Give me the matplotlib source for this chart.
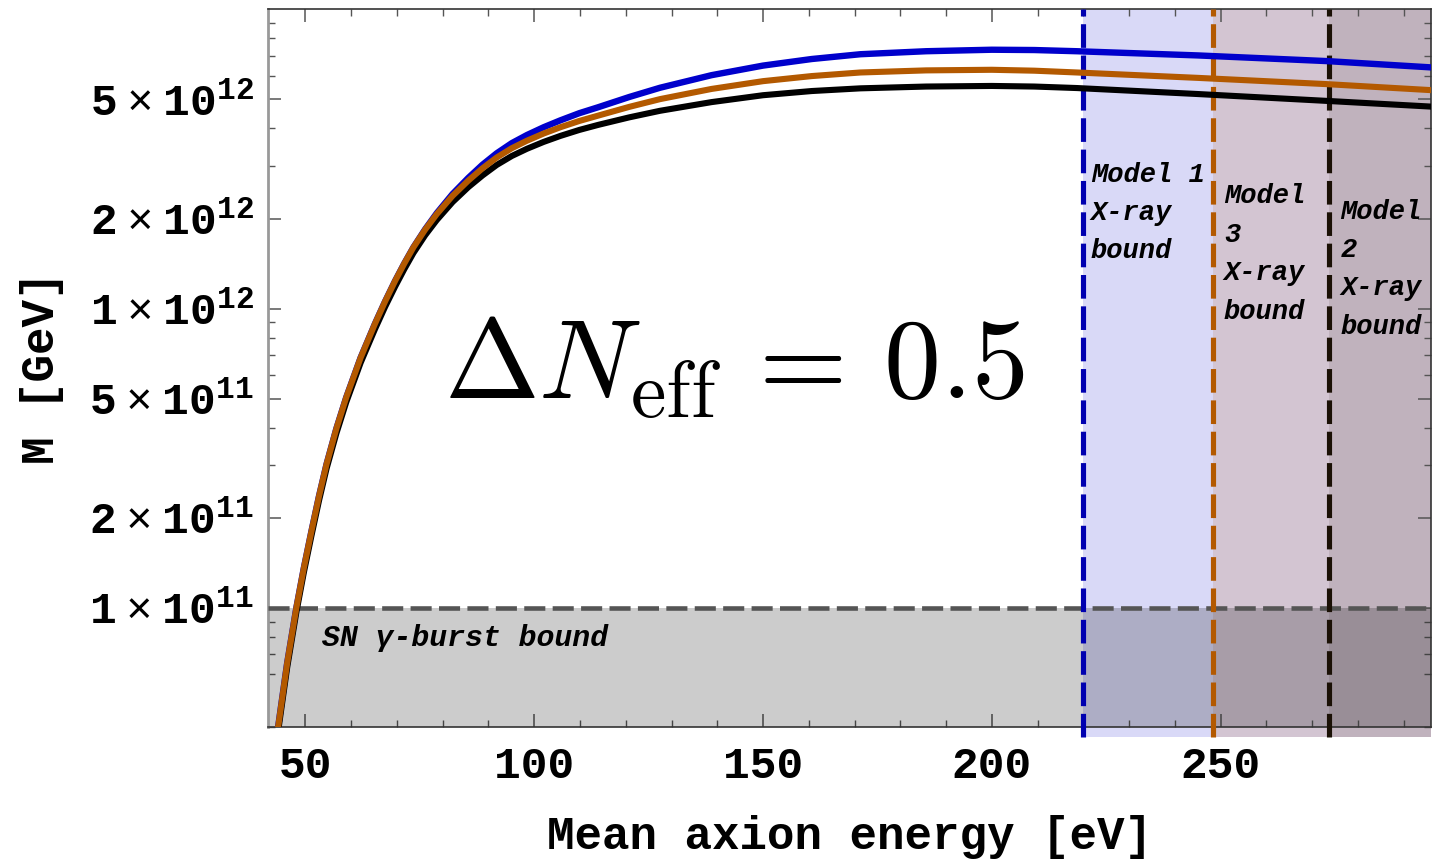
import matplotlib
matplotlib.use("Agg")
import matplotlib.pyplot as plt
from matplotlib.ticker import MultipleLocator, LogLocator, NullFormatter

plt.rcParams["font.family"] = ["Liberation Mono", "DejaVu Sans"]
plt.rcParams["mathtext.fontset"] = "custom"
plt.rcParams["mathtext.rm"] = "Liberation Mono"
plt.rcParams["mathtext.bf"] = "Liberation Mono:bold"
plt.rcParams["mathtext.it"] = "Liberation Mono:italic"

# mean axion energy [eV]; curves given as log10(M / GeV)
energy = [44, 46, 48, 49.65, 51.3, 52.95, 54.6, 56.75, 58.9, 62.05, 65.2, 67.4,
          69.6, 71.6, 73.6, 76.15, 78.7, 82.15, 85.6, 88.7, 91.8, 95.1, 98.4,
          102.05, 105.7, 109.85, 114, 120.75, 127.5, 138.75, 150, 160.65,
          171.3, 185.65, 200, 209.3, 218.6, 245, 273.3, 296]
logm_model1 = [10.600, 10.816, 11.000, 11.134, 11.256, 11.373, 11.480, 11.599,
               11.703, 11.836, 11.950, 12.024, 12.093, 12.151, 12.205, 12.265,
               12.319, 12.383, 12.437, 12.481, 12.519, 12.553, 12.580, 12.606,
               12.629, 12.653, 12.673, 12.707, 12.738, 12.780, 12.812, 12.834,
               12.850, 12.860, 12.865, 12.864, 12.860, 12.846, 12.827, 12.806]
logm_model3 = [10.600, 10.816, 11.000, 11.134, 11.256, 11.373, 11.480, 11.599,
               11.703, 11.836, 11.950, 12.024, 12.093, 12.151, 12.205, 12.264,
               12.316, 12.377, 12.428, 12.469, 12.505, 12.536, 12.561, 12.585,
               12.606, 12.627, 12.645, 12.674, 12.700, 12.734, 12.760, 12.777,
               12.789, 12.796, 12.798, 12.795, 12.789, 12.771, 12.750, 12.730]
logm_model2 = [10.585, 10.801, 10.985, 11.119, 11.241, 11.358, 11.465, 11.583,
               11.687, 11.819, 11.932, 12.006, 12.074, 12.132, 12.186, 12.245,
               12.296, 12.356, 12.406, 12.445, 12.480, 12.510, 12.534, 12.557,
               12.577, 12.597, 12.614, 12.639, 12.661, 12.690, 12.713, 12.727,
               12.736, 12.742, 12.744, 12.742, 12.737, 12.717, 12.694, 12.675]

# X-ray bounds on the mean energy [eV], SN bound on M [GeV]
xray_model1 = 220.0
xray_model3 = 248.3
xray_model2 = 273.7
sn_bound = 1e11

xlim = (41.8, 296.0)
ylim = (4e10, 1e13)
ytick_values = [1e11, 2e11, 5e11, 1e12, 2e12, 5e12]
ytick_labels = [r"$\mathbf{1}\,\times\,\mathbf{10}^{\mathbf{11}}$",
                r"$\mathbf{2}\,\times\,\mathbf{10}^{\mathbf{11}}$",
                r"$\mathbf{5}\,\times\,\mathbf{10}^{\mathbf{11}}$",
                r"$\mathbf{1}\,\times\,\mathbf{10}^{\mathbf{12}}$",
                r"$\mathbf{2}\,\times\,\mathbf{10}^{\mathbf{12}}$",
                r"$\mathbf{5}\,\times\,\mathbf{10}^{\mathbf{12}}$"]

c_blue = "#0000cc"
c_orange = "#b35900"
c_black = "#000000"

fig = plt.figure(figsize=(14.33, 8.64), dpi=100)
ax = fig.add_axes([0.187, 0.1586, 0.8116, 0.8306])
ax.set_yscale("log")
ax.set_xlim(*xlim)
ax.set_ylim(*ylim)

# excluded regions (bands poke a little below the frame, as in the original)
span = dict(lw=0, zorder=1, ymin=-0.014, clip_on=False)
ax.axvspan(xray_model1, xlim[1], color=c_blue, alpha=0.15, **span)
ax.axvspan(xray_model3, xlim[1], color=c_orange, alpha=0.15, **span)
ax.axvspan(xray_model2, xlim[1], color="#1a1005", alpha=0.10, **span)
ax.axhspan(ylim[0], sn_bound, color="black", alpha=0.2, lw=0, zorder=2)
ax.axhline(sn_bound, color="#555555", lw=3.3, dashes=(4.6, 1.6), zorder=3)

vline = dict(lw=3.7, dashes=(4.6, 1.5), zorder=3, ymin=-0.014, clip_on=False)
ax.axvline(xray_model1, color="#0000b0", **vline)
ax.axvline(xray_model3, color=c_orange, **vline)
ax.axvline(xray_model2, color="#1a1005", **vline)

# curves
ax.plot(energy, [10 ** v for v in logm_model1], color=c_blue, lw=4.6, zorder=4)
ax.plot(energy, [10 ** v for v in logm_model2], color=c_black, lw=4.4, zorder=4)
ax.plot(energy, [10 ** v for v in logm_model3], color=c_orange, lw=4.4, zorder=5)

ann = dict(fontsize=19.5, fontweight="bold", fontstyle="italic",
           va="top", ha="left", linespacing=1.62, zorder=6)
ax.text(221.6, 3.1e12, "Model 1\nX-ray\nbound", **ann)
ax.text(250.7, 2.62e12, "Model\n3\nX-ray\nbound", **ann)
ax.text(276.2, 2.33e12, "Model\n2\nX-ray\nbound", **ann)
ax.text(53.6, 7.95e10, "SN γ-burst bound", fontsize=21.5, fontweight="bold",
        fontstyle="italic", va="center", ha="left", zorder=6)

ax.text(0.401, 0.499, r"$\Delta N_{\rm eff}\, =\, 0.5$", transform=ax.transAxes,
        fontsize=82, math_fontfamily="cm", ha="center", va="center")

# ticks
ax.xaxis.set_major_locator(MultipleLocator(50))
ax.xaxis.set_minor_locator(MultipleLocator(10))
ax.set_yticks(ytick_values, labels=ytick_labels)
ax.yaxis.set_minor_locator(LogLocator(base=10, subs=(3, 4, 6, 7, 8, 9)))
ax.yaxis.set_minor_formatter(NullFormatter())
ax.tick_params(which="both", direction="in", top=True, right=True, color="#555555")
ax.tick_params(which="major", length=9.5, width=1.1)
ax.tick_params(which="minor", length=5, width=1.0)
ax.tick_params(axis="x", which="major", pad=14, labelsize=32)
ax.tick_params(axis="y", which="major", pad=10, labelsize=32)
for lab in ax.get_xticklabels():
    lab.set_fontweight("bold")

for side in ["top", "right", "bottom"]:
    ax.spines[side].set_color("#333333")
    ax.spines[side].set_linewidth(1.2)
ax.spines["left"].set_color("#999999")
ax.spines["left"].set_linewidth(2)

ax.set_xlabel("Mean axion energy [eV]", fontsize=33, fontweight="bold", labelpad=20)
ax.set_ylabel("M [GeV]", fontsize=33, fontweight="bold", labelpad=18)

fig.savefig("out.png", dpi=100)
